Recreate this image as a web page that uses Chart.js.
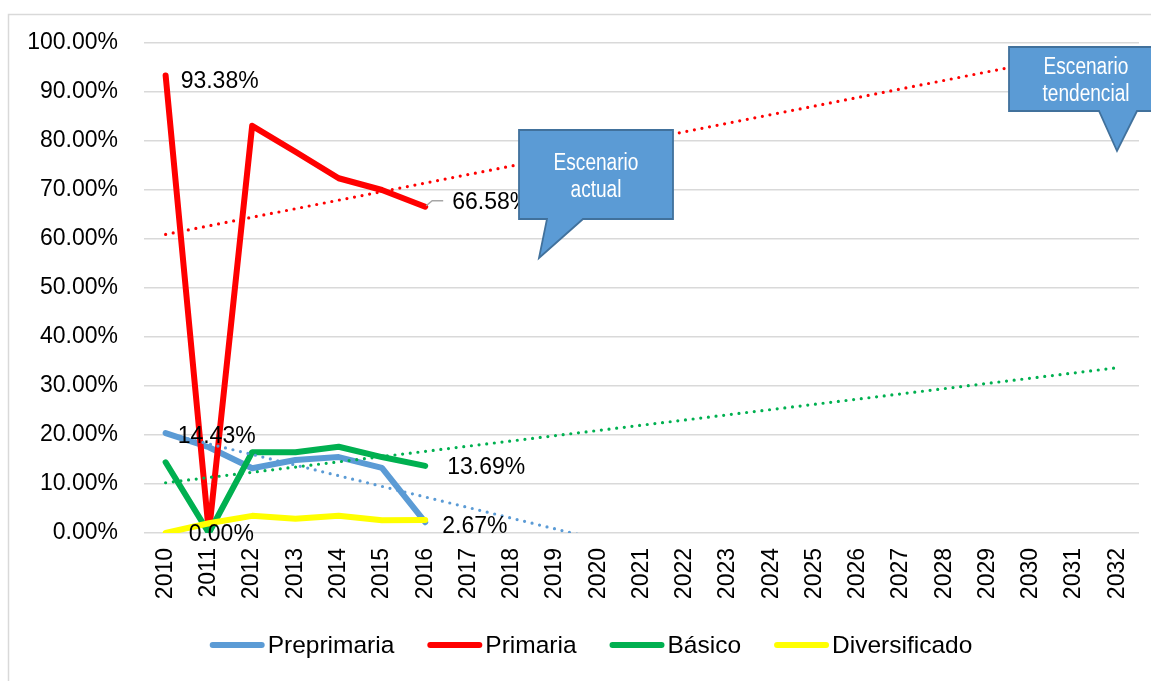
<!DOCTYPE html>
<html lang="es">
<head>
<meta charset="utf-8">
<title>Escenarios por nivel educativo</title>
<script src="https://cdn.jsdelivr.net/npm/chart.js@4.4.1/dist/chart.umd.min.js"></script>
<style>
  html, body { margin: 0; padding: 0; background: #ffffff; }
  #wrap { width: 1151px; height: 681px; position: relative; }
</style>
</head>
<body>
<div id="wrap"><canvas id="chart" width="1151" height="681"></canvas></div>
<script>
// Categories (years) shown along the horizontal axis
const years = ['2010', '2011', '2012', '2013', '2014', '2015', '2016', '2017', '2018', '2019', '2020',
  '2021', '2022', '2023', '2024', '2025', '2026', '2027', '2028', '2029', '2030', '2031', '2032'];

// Observed rates per level, in percent (2010–2016)
const preprimaria   = [20.40, 17.50, 13.20, 14.90, 15.50, 13.30, 2.20];
const primaria      = [93.38, 0.00, 83.10, 77.80, 72.40, 70.00, 66.58];
const basico        = [14.43, 0.00, 16.50, 16.50, 17.60, 15.50, 13.69];
const diversificado = [0.00, 2.00, 3.50, 2.90, 3.50, 2.60, 2.67];

// Vertical axis ticks, in percent
const yTicks = [0, 10, 20, 30, 40, 50, 60, 70, 80, 90, 100];

const seriesNames  = ['Preprimaria', 'Primaria', 'Básico', 'Diversificado'];
const seriesColors = ['#5B9BD5', '#FF0000', '#00B050', '#FFFF00'];

const FONT = '"Liberation Sans", Arial, sans-serif';

// Least-squares linear trend over the observed years, extended to the last category
function linearTrend(values) {
  const n = values.length;
  let sx = 0, sy = 0, sxx = 0, sxy = 0;
  values.forEach((v, i) => { sx += i; sy += v; sxx += i * i; sxy += i * v; });
  const b = (n * sxy - sx * sy) / (n * sxx - sx * sx);
  const a = (sy - b * sx) / n;
  const last = years.length - 1;
  return [{ x: years[0], y: a }, { x: years[last], y: a + b * last }];
}

function seriesDataset(label, data, color, order) {
  return {
    label, data, borderColor: color, backgroundColor: color,
    borderWidth: 6, borderJoinStyle: 'round', borderCapStyle: 'round',
    pointRadius: 0, pointHoverRadius: 0, tension: 0, fill: false, order
  };
}

function trendDataset(data, color) {
  return {
    label: 'trend', data, borderColor: color, backgroundColor: color,
    borderWidth: 3.2, borderDash: [0, 7.7], borderCapStyle: 'round',
    pointRadius: 0, pointHoverRadius: 0, tension: 0, fill: false, order: 0
  };
}

// Value labels: which point, and where its text sits relative to the point
const valueLabels = [
  { series: 1, index: 0, dx: 15, dy: 6 },
  { series: 1, index: 6, dx: 27, dy: -4, leader: true },
  { series: 2, index: 0, dx: 12, dy: -26 },
  { series: 2, index: 6, dx: 22, dy: 2 },
  { series: 3, index: 0, dx: 23, dy: 2 },
  { series: 3, index: 6, dx: 17, dy: 7 }
];

// Chart frame
const framePlugin = {
  id: 'frame',
  beforeDraw(chart) {
    const ctx = chart.ctx;
    ctx.save();
    ctx.strokeStyle = '#D9D9D9';
    ctx.lineWidth = 1.5;
    ctx.strokeRect(8.5, 14.5, 1200, 700);
    ctx.restore();
  }
};

// Value labels drawn beside their points
const valueLabelPlugin = {
  id: 'valueLabels',
  afterDatasetsDraw(chart) {
    const ctx = chart.ctx;
    ctx.save();
    ctx.font = '23px ' + FONT;
    ctx.fillStyle = '#000000';
    ctx.textAlign = 'left';
    ctx.textBaseline = 'middle';
    valueLabels.forEach(l => {
      const meta = chart.getDatasetMeta(l.series);
      const pt = meta.data[l.index];
      const value = chart.data.datasets[l.series].data[l.index];
      if (l.leader) {
        ctx.strokeStyle = '#A6A6A6';
        ctx.lineWidth = 1.5;
        ctx.beginPath();
        ctx.moveTo(pt.x + 1, pt.y - 1);
        ctx.lineTo(pt.x + 7, pt.y - 6);
        ctx.lineTo(pt.x + 18, pt.y - 6);
        ctx.stroke();
      }
      ctx.fillText(value.toFixed(2) + '%', pt.x + l.dx, pt.y + l.dy);
    });
    ctx.restore();
  }
};

// Legend: line sample followed by the series name
const legendPlugin = {
  id: 'lineLegend',
  afterDraw(chart) {
    const ctx = chart.ctx;
    const sample = 55, gapText = 3, gapItem = 33, cy = 645, cx = 591;
    ctx.save();
    ctx.font = '24.5px ' + FONT;
    const widths = seriesNames.map(t => ctx.measureText(t).width);
    const total = widths.reduce((s, w) => s + sample + gapText + w, 0) + gapItem * (seriesNames.length - 1);
    let x = cx - total / 2;
    ctx.textAlign = 'left';
    ctx.textBaseline = 'middle';
    seriesNames.forEach((name, i) => {
      ctx.strokeStyle = seriesColors[i];
      ctx.lineWidth = 6;
      ctx.lineCap = 'round';
      ctx.beginPath();
      ctx.moveTo(x + 3, cy);
      ctx.lineTo(x + sample - 3, cy);
      ctx.stroke();
      ctx.fillStyle = '#000000';
      ctx.fillText(name, x + sample + gapText, cy + 1);
      x += sample + gapText + widths[i] + gapItem;
    });
    ctx.restore();
  }
};

// Callout shapes with their captions
const callouts = [
  { box: [519, 130, 154, 89], tail: [[547, 219], [539, 258], [583, 219]], lines: ['Escenario', 'actual'] },
  { box: [1009, 47, 154, 64], tail: [[1099, 111], [1117, 151], [1137, 111]], lines: ['Escenario', 'tendencial'] }
];

const calloutPlugin = {
  id: 'callouts',
  afterDraw(chart) {
    const ctx = chart.ctx;
    ctx.save();
    callouts.forEach(c => {
      const [x, y, w, h] = c.box;
      ctx.beginPath();
      ctx.moveTo(x, y);
      ctx.lineTo(x + w, y);
      ctx.lineTo(x + w, y + h);
      ctx.lineTo(c.tail[2][0], c.tail[2][1]);
      ctx.lineTo(c.tail[1][0], c.tail[1][1]);
      ctx.lineTo(c.tail[0][0], c.tail[0][1]);
      ctx.lineTo(x, y + h);
      ctx.closePath();
      ctx.fillStyle = '#5B9BD5';
      ctx.fill();
      ctx.strokeStyle = '#41719C';
      ctx.lineWidth = 1.8;
      ctx.lineJoin = 'miter';
      ctx.stroke();

      const cx = x + w / 2, cy = y + h / 2;
      ctx.fillStyle = '#FFFFFF';
      ctx.font = '23px ' + FONT;
      ctx.textAlign = 'center';
      ctx.textBaseline = 'alphabetic';
      c.lines.forEach((t, i) => {
        ctx.save();
        ctx.translate(cx, cy - 5 + i * 27);
        ctx.scale(0.83, 1);
        ctx.fillText(t, 0, 0);
        ctx.restore();
      });
    });
    ctx.restore();
  }
};

const datasets = [
  seriesDataset(seriesNames[0], preprimaria, seriesColors[0], 4),
  seriesDataset(seriesNames[1], primaria, seriesColors[1], 3),
  seriesDataset(seriesNames[2], basico, seriesColors[2], 2),
  seriesDataset(seriesNames[3], diversificado, seriesColors[3], 1),
  trendDataset(linearTrend(preprimaria), seriesColors[0]),
  trendDataset(linearTrend(primaria), seriesColors[1]),
  trendDataset(linearTrend(basico), seriesColors[2])
];

new Chart(document.getElementById('chart'), {
  type: 'line',
  data: { labels: years, datasets },
  options: {
    responsive: false,
    devicePixelRatio: 1,
    animation: false,
    events: [],
    layout: { padding: { top: 43, right: 12, bottom: 0, left: 0 } },
    plugins: {
      legend: { display: false },
      tooltip: { enabled: false },
      title: { display: false }
    },
    scales: {
      x: {
        type: 'category',
        offset: true,
        grid: { display: false, drawTicks: false },
        border: { display: false },
        ticks: {
          autoSkip: false, minRotation: 90, maxRotation: 90, padding: 15,
          color: '#000000', font: { family: FONT, size: 23 }
        },
        afterFit(scale) {
          scale.height = 148;
          scale.paddingLeft = 0;
          scale.paddingRight = 0;
        }
      },
      y: {
        min: 0, max: 100,
        afterBuildTicks(scale) { scale.ticks = yTicks.map(v => ({ value: v })); },
        grid: { color: '#D9D9D9', lineWidth: 1.5, drawTicks: false },
        border: { display: false },
        ticks: {
          padding: 26, color: '#000000', font: { family: FONT, size: 23 },
          callback: v => Number(v).toFixed(2) + '%'
        },
        afterFit(scale) { scale.width = 144; }
      }
    }
  },
  plugins: [framePlugin, valueLabelPlugin, legendPlugin, calloutPlugin]
});
</script>
</body>
</html>
